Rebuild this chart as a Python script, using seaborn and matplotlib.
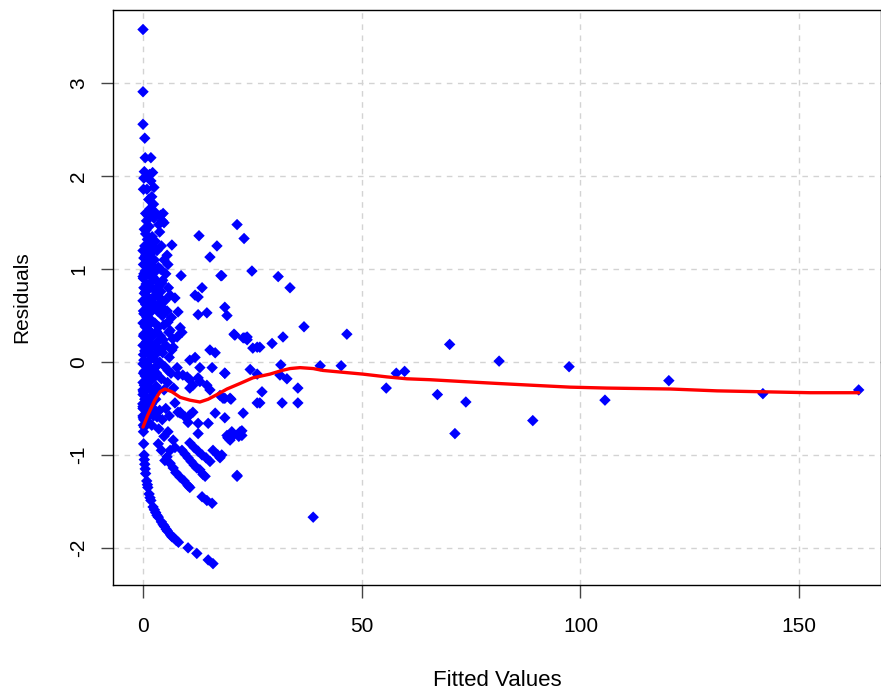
import numpy as np
import pandas as pd
import seaborn as sns
import matplotlib
matplotlib.use("Agg")
import matplotlib.pyplot as plt

# ---- data ----
# top tail (very large residuals at small fitted values)
tail_x = [0.0, 0.0, 0.0, 0.4, 0.5, 1.8, 0.3, 0.2, 1.5, 2.2, 1.8, 2.5, 0.1, 0.9, 2.0,
          1.6, 2.4, 1.1, 2.5, 4.6, 4.8, 0.7, 2.6, 3.6, 4.0, 4.4]
tail_y = [3.58, 2.91, 2.56, 2.41, 2.20, 2.20, 2.05, 1.98, 2.02, 2.04, 1.95, 1.88, 1.86, 1.86, 1.78,
          1.65, 1.70, 1.58, 1.55, 1.60, 1.50, 1.42, 1.62, 1.48, 1.58, 1.52]

# dense column of points near zero fitted value
core_x = [0.8, 1.4, 0.3, 0.6, 1.0, 2.8, 0.4, 1.2, 2.0, 3.2, 0.2, 0.9, 1.7, 2.6, 3.5,
          0.5, 1.3, 2.2, 3.0, 0.1, 0.7, 1.6, 2.5, 3.6, 0.3, 1.1, 1.9, 2.9, 0.6, 1.4,
          2.3, 3.3, 0.2, 0.9, 1.7, 2.7, 0.5, 1.2, 2.1, 3.1, 0.1, 0.8, 1.5, 2.5, 3.4,
          0.4, 1.1, 1.9, 2.8, 0.2, 0.7, 1.4, 2.3, 3.2, 0.1, 0.5, 1.0, 1.8, 2.6, 0.3,
          0.8, 1.5, 2.2, 3.0, 0.0, 0.4, 1.2, 2.0, 2.9, 0.1, 0.6, 1.6, 2.4, 0.2, 1.0,
          2.0, 0.0, 0.0, 0.3, 3.8, 4.2, 4.8, 4.0, 5.2, 4.5, 5.8, 4.1, 5.0, 6.2, 3.9,
          5.5, 4.4, 6.5, 4.8, 5.9, 4.0, 6.8, 5.2, 4.5, 6.0, 3.8, 5.0, 6.4, 4.2, 5.6,
          7.0, 4.8, 3.8, 5.2, 4.4, 6.0, 3.6, 4.8, 3.5, 4.2, 2.3, 6.6, 5.5, 5.7, 4.3,
          7.3, 4.3, 6.2, 4.6, 7.8, 1.3, 0.6, 2.1, 1.0, 0.2, 1.7,
          # extra fill of the crowded column
          0.0, 0.1, 0.0, 0.2, 0.0, 0.1, 0.0, 0.2, 0.0, 0.1, 0.0, 0.3, 0.0, 0.1, 0.0,
          0.6, 1.0, 1.4, 1.8, 2.2, 0.5, 0.9, 1.3, 1.7, 2.1, 0.7, 1.1, 1.5, 1.9, 2.4,
          0.4, 0.8, 1.2, 1.6, 2.0, 0.6, 1.0, 1.4, 1.8, 2.7, 0.5, 0.9, 1.3, 1.7, 2.2,
          3.0, 3.4, 2.6, 3.1, 2.8, 3.6, 2.5, 3.3, 2.9, 3.7]
core_y = [1.52, 1.46, 1.43, 1.38, 1.32, 1.30, 1.25, 1.22, 1.18, 1.20, 1.12, 1.08, 1.05, 1.10, 1.02,
          0.98, 0.95, 0.92, 0.88, 0.90, 0.84, 0.80, 0.78, 0.82, 0.74, 0.70, 0.68, 0.72, 0.62, 0.58,
          0.60, 0.55, 0.52, 0.48, 0.45, 0.42, 0.38, 0.35, 0.30, 0.33, 0.28, 0.22, 0.20, 0.18, 0.22,
          0.12, 0.10, 0.06, 0.08, 0.02, -0.02, -0.05, -0.08, -0.04, -0.12, -0.15, -0.18, -0.20, -0.16, -0.25,
          -0.30, -0.28, -0.32, -0.26, -0.35, -0.40, -0.42, -0.45, -0.40, -0.50, -0.52, -0.55, -0.58, -0.62, -0.64,
          -0.68, -0.58, -0.45, -0.70, 1.40, 1.25, 1.10, 1.00, 0.95, 0.88, 0.80, 0.76, 0.66, 0.72, 0.60,
          0.55, 0.50, 0.48, 0.40, 0.32, 0.28, 0.25, 0.18, 0.10, 0.05, 0.00, -0.05, -0.12, -0.18, -0.22,
          -0.28, -0.30, -0.52, -0.50, -0.62, -0.58, -0.72, -0.80, -0.88, -0.95, 1.24, 1.26, 1.15, 1.05, 0.85,
          0.69, 0.59, 0.34, 0.24, 0.27, 1.75, 1.60, 1.35, 0.62, 0.95, 0.15,
          1.20, 1.05, 0.92, 0.80, 0.66, 0.55, 0.42, 0.30, 0.18, 0.08, -0.02, -0.10, -0.22, -0.32, -0.48,
          1.15, 1.12, 1.00, 0.86, 1.28, 0.64, 0.52, 0.40, 0.26, 0.44, 0.14, 0.00, -0.12, -0.10, 0.04,
          -0.36, -0.22, -0.10, 0.10, -0.30, 0.76, 0.60, 0.34, 0.54, 0.62, -0.46, -0.60, -0.50, -0.38, -0.54,
          1.00, 0.62, 0.30, -0.12, -0.52, 0.38, 0.96, -0.30, 0.16, 0.70]

# lower envelope curve (zero counts) and its stragglers
env_x = [0.0, 0.0, 0.02, 0.05, 0.08, 0.1, 0.15, 0.25, 0.3, 0.4, 0.5, 0.6, 0.85, 1.0, 1.1,
         1.4, 1.6, 1.8, 2.3, 2.6, 2.9, 3.2, 3.5, 4.2, 4.6, 4.9, 5.3, 5.6, 6.3, 6.6,
         7.0, 7.6, 8.1, 10.3, 12.3, 14.9, 16.0]
env_y = [-0.30, -0.45, -0.50, -0.60, -0.68, -0.75, -0.88, -1.00, -1.05, -1.10, -1.15, -1.20, -1.28, -1.32, -1.35,
         -1.42, -1.46, -1.49, -1.56, -1.59, -1.62, -1.65, -1.67, -1.72, -1.75, -1.77, -1.80, -1.82, -1.86, -1.88,
         -1.89, -1.92, -1.94, -2.00, -2.06, -2.13, -2.17]

# diagonal bands and scatter between fitted 5 and 27
band_x = [5.0, 5.5, 6.2, 6.9, 7.5, 8.5, 9.4, 10.3, 10.7, 8.9, 9.6, 10.3, 11.0, 11.7, 12.3,
          13.0, 13.7, 14.2, 10.7, 11.7, 12.6, 13.5, 14.4, 15.3, 16.0, 17.1, 17.6, 13.5, 14.6, 15.8,
          21.5, 5.7, 6.9, 19.2, 19.4, 22.2, 22.6, 22.9, 18.7, 12.6, 14.9, 10.7, 11.4, 16.5, 8.0,
          8.5, 3.2, 15.3, 17.6, 18.7, 19.9, 10.7, 11.4, 12.6, 15.8, 18.7, 15.3, 16.5, 13.0, 10.7,
          11.9, 5.7, 7.8, 8.0, 10.1, 10.7, 3.9, 6.6, 6.9, 8.5, 8.9, 5.7, 8.0, 12.6, 14.6,
          18.7, 19.2, 21.0, 23.3, 23.8, 26.1, 26.1, 11.9, 12.6, 13.5, 12.8, 16.9, 15.3, 17.8, 8.7,
          13.0, 9.1, 9.6, 10.3, 12.6, 14.6, 7.3, 8.5, 6.2, 7.3, 20.6, 19.9]
band_y = [-1.06, -1.02, -1.09, -1.14, -1.19, -1.24, -1.28, -1.33, -1.35, -0.95, -0.99, -1.03, -1.07, -1.11, -1.14,
          -1.16, -1.21, -1.23, -0.87, -0.92, -0.96, -1.00, -1.03, -1.07, -0.95, -1.00, -1.03, -1.45, -1.49, -1.52,
          -1.22, -0.75, -0.84, -0.79, -0.81, -0.75, -0.79, -0.55, -0.60, -0.66, -0.66, -0.57, -0.54, -0.55, -0.54,
          -0.55, -0.59, -0.30, -0.36, -0.39, -0.39, -0.28, -0.25, -0.17, -0.06, -0.12, 0.13, 0.10, -0.06, 0.02,
          0.05, -0.09, -0.06, -0.14, -0.16, -0.19, 0.13, 0.13, 0.16, 0.37, 0.32, 0.43, 0.54, 0.51, 0.53,
          0.59, 0.50, 0.29, 0.26, 0.24, 0.16, -0.44, 0.72, 0.70, 0.80, 1.36, 1.25, 1.13, 0.93, 0.93,
          -0.21, -0.14, -0.59, -0.65, -0.77, -0.25, -0.44, -0.54, -0.95, -0.92, -0.79, -0.84]

# sparse points, fitted 18 to 47
mid_x = [21.5, 23.1, 18.0, 24.9, 30.9, 33.6, 36.8, 20.8, 22.9, 23.8, 25.1, 26.7, 29.5, 32.0, 18.7,
         24.5, 26.1, 31.5, 31.3, 32.9, 40.5, 18.3, 20.1, 27.2, 26.7, 31.8, 35.4, 35.4, 19.5, 20.3,
         21.9, 22.6, 18.0, 21.5, 46.6, 45.3, 38.9]
mid_y = [1.48, 1.33, 0.93, 0.98, 0.92, 0.80, 0.38, 0.30, 0.26, 0.27, 0.15, 0.16, 0.20, 0.27, -0.12,
         -0.08, -0.13, -0.03, -0.14, -0.18, -0.04, -0.39, -0.40, -0.32, -0.44, -0.44, -0.28, -0.44, -0.82, -0.75,
         -0.80, -0.74, -1.00, -1.23, 0.30, -0.04, -1.67]

# large fitted values
far_x = [55.6, 57.9, 59.8, 67.3, 70.1, 71.3, 73.8, 81.4, 89.1, 97.4, 105.6, 120.2, 141.7, 163.6]
far_y = [-0.28, -0.12, -0.10, -0.35, 0.19, -0.77, -0.43, 0.01, -0.63, -0.05, -0.41, -0.20, -0.34, -0.30]

# red smoother
smooth_x = [0.0, 1.1, 2.7, 3.9, 5.0, 6.6, 8.5, 10.7, 13.0, 14.9, 16.9, 19.2, 22.2, 25.1, 29.0,
            31.8, 33.6, 35.9, 38.9, 41.1, 50.3, 55.8, 60.3, 65.6, 73.1, 80.9, 89.1, 97.6, 106.0, 120.5,
            131.2, 141.7, 152.5, 163.6]
smooth_y = [-0.70, -0.57, -0.41, -0.32, -0.29, -0.32, -0.38, -0.41, -0.43, -0.40, -0.35, -0.29, -0.23, -0.17, -0.13,
            -0.09, -0.07, -0.06, -0.07, -0.09, -0.13, -0.16, -0.18, -0.19, -0.21, -0.23, -0.25, -0.27, -0.28, -0.29,
            -0.31, -0.32, -0.33, -0.33]

pts = pd.DataFrame({
    "fitted": tail_x + core_x + env_x + band_x + mid_x + far_x,
    "resid": tail_y + core_y + env_y + band_y + mid_y + far_y,
})
smooth = pd.DataFrame({"fitted": smooth_x, "resid": smooth_y})

# ---- plot ----
sns.set_style("white")
plt.rcParams["font.family"] = ["Liberation Sans", "DejaVu Sans"]
plt.rcParams["axes.unicode_minus"] = False
plt.rcParams["text.color"] = "black"
plt.rcParams["axes.labelcolor"] = "black"
plt.rcParams["xtick.color"] = "black"
plt.rcParams["ytick.color"] = "black"

fig = plt.figure(figsize=(8.81, 6.95), dpi=100)
ax = fig.add_axes([113 / 881, 1 - 585 / 695, 768 / 881, 575 / 695])

ax.grid(True, color="#d3d3d3", linestyle=(0, (4, 4)), linewidth=1, zorder=0)
ax.set_axisbelow(True)

sns.scatterplot(data=pts, x="fitted", y="resid", marker="D", color="#0000ff",
                s=34, edgecolor="none", linewidth=0, ax=ax, zorder=3)
sns.lineplot(data=smooth, x="fitted", y="resid", color="#ff0000", linewidth=2.4,
             sort=False, estimator=None, ax=ax, zorder=4)

ax.set_xlim(-6.86, 168.7)
ax.set_ylim(-2.40, 3.79)
ax.set_xticks([0, 50, 100, 150])
ax.set_yticks([-2, -1, 0, 1, 2, 3])

for s in ax.spines.values():
    s.set_color("black")
    s.set_linewidth(1.0)

ax.tick_params(direction="out", length=9, width=1, color="#444444",
               labelsize=15, bottom=True, left=True)
ax.tick_params(axis="x", pad=14)
ax.tick_params(axis="y", pad=9)
for lab in ax.get_yticklabels():
    lab.set_rotation(90)
    lab.set_va("center")

ax.set_xlabel("Fitted Values", fontsize=16)
ax.set_ylabel("Residuals", fontsize=15)
ax.xaxis.set_label_coords(0.5, (585 - 680) / 575)
ax.yaxis.set_label_coords((22 - 113) / 768, 0.5)
ax.xaxis.label.set_va("center")
ax.yaxis.label.set_va("center")

fig.savefig("out.png", dpi=100, facecolor="white")
